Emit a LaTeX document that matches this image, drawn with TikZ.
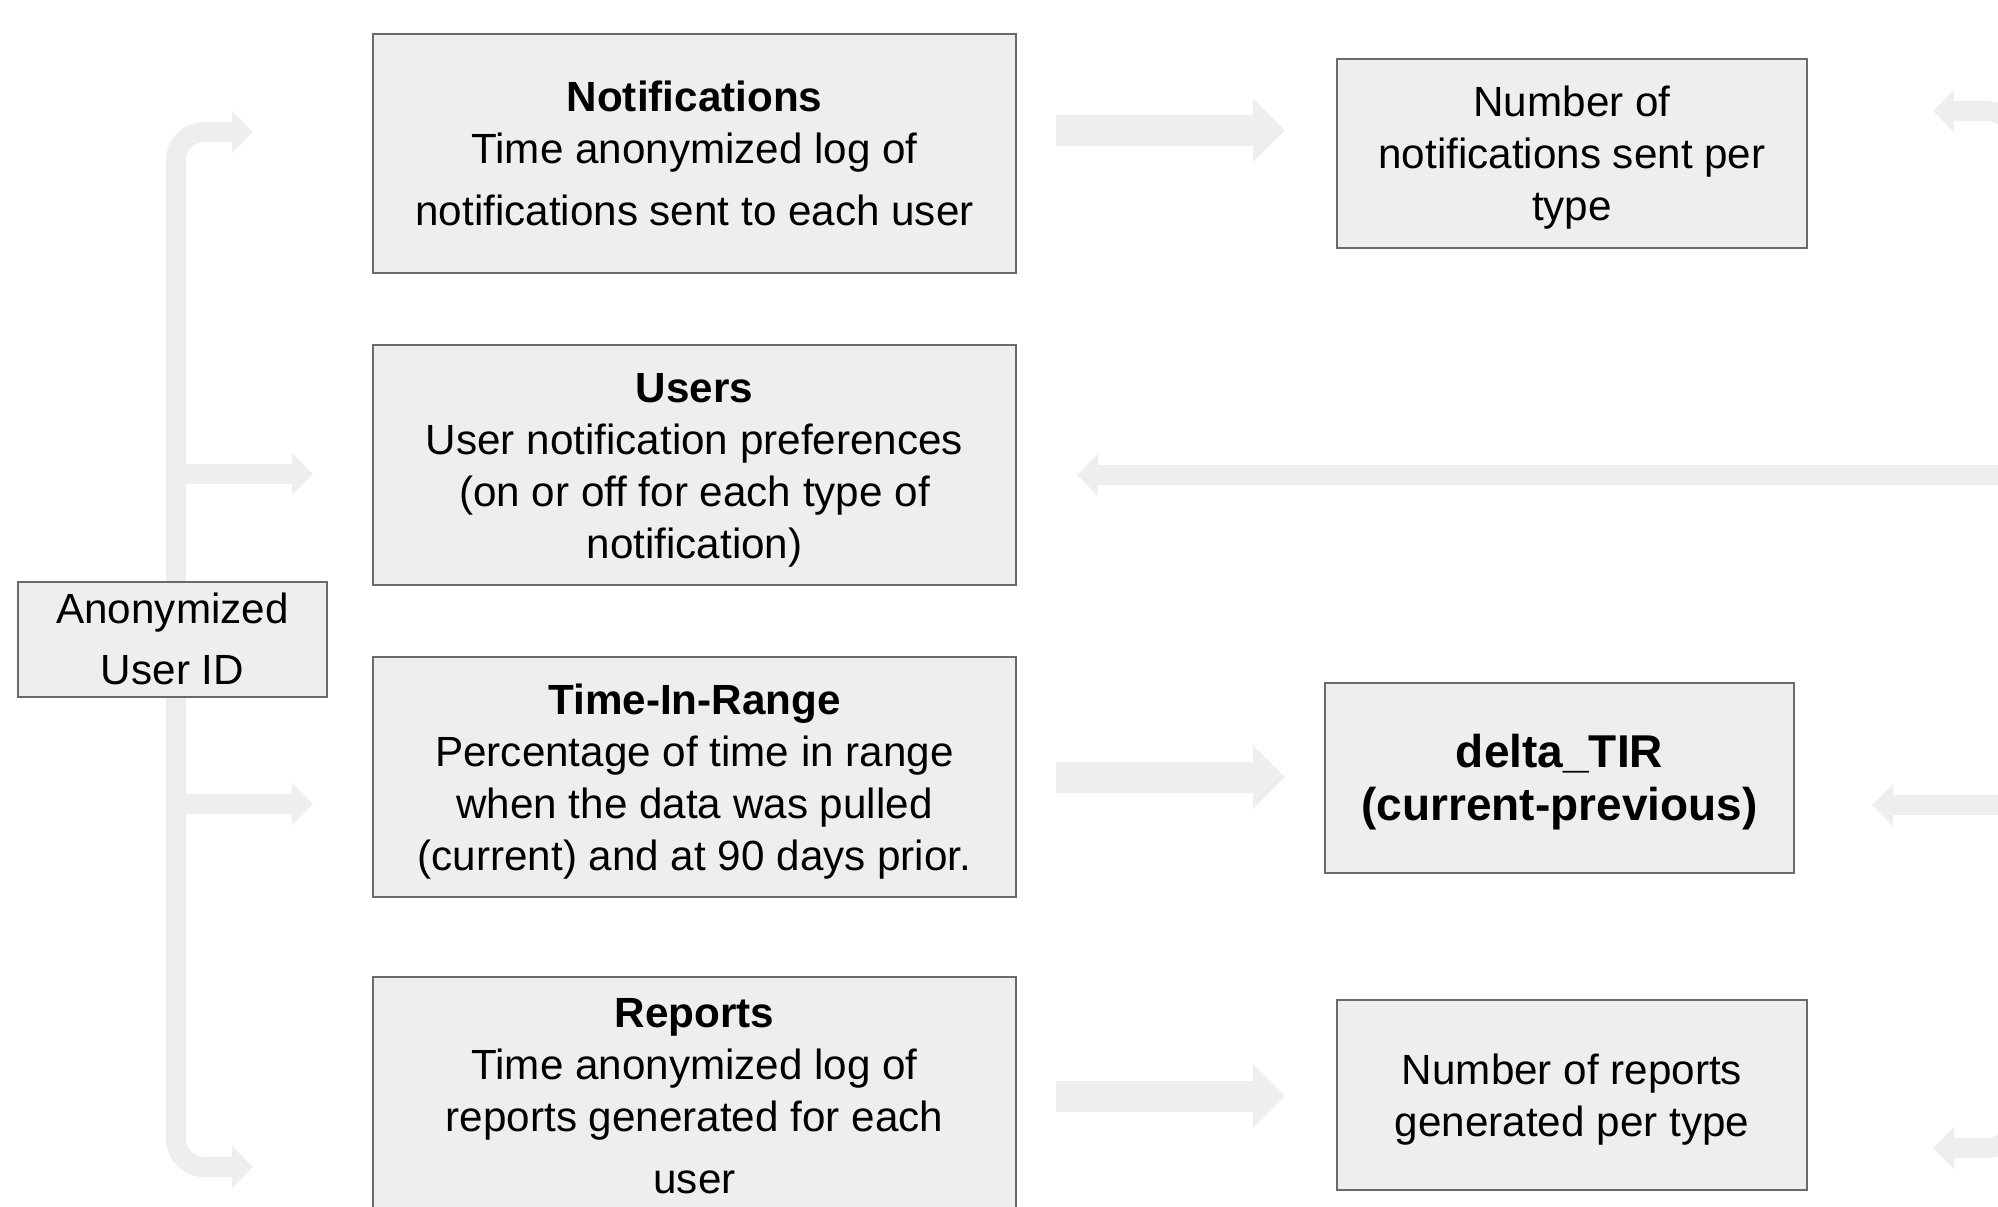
\documentclass[tikz,border=0pt]{standalone}
\usepackage{fontspec}
\setmainfont{Liberation Sans}
\usetikzlibrary{arrows.meta}

\definecolor{boxfill}{HTML}{EEEEEE}
\definecolor{boxline}{HTML}{6A6A6A}
\definecolor{flow}{HTML}{EEEEEE}

\tikzset{
  box/.style={draw=boxline, fill=boxfill, line width=1.2pt, inner sep=0pt},
  boxtext/.style={inner sep=0pt, align=center, text=black,
    font=\fontsize{21.1pt}{26pt}\selectfont},
  bigflow/.style={draw=flow, line width=15.5pt,
    -{Triangle[width=31pt,length=16pt]}},
  thinflow/.style={draw=flow, line width=10pt, rounded corners=14pt},
  thintip/.style={-{Triangle[width=20.5pt,length=10.5pt]}},
  thintips/.style={{Triangle[width=20.5pt,length=10.5pt]}-{Triangle[width=20.5pt,length=10.5pt]}}
}

\begin{document}
\begin{tikzpicture}[x=0.5pt, y=-0.5pt]
\useasboundingbox (0,0) rectangle (1998,1206);
\clip (0,0) rectangle (1998,1206);

% connector end points
\coordinate (lTop) at (253,132);
\coordinate (lTopBend) at (176,132);
\coordinate (lBotBend) at (176,1167);
\coordinate (lBot) at (253,1167);
\coordinate (lUsersFrom) at (176,474);
\coordinate (lUsersTo) at (313,474);
\coordinate (lTirFrom) at (176,804);
\coordinate (lTirTo) at (313,804);

\coordinate (rTop) at (1933,111);
\coordinate (rTopBend) at (2015,111);
\coordinate (rBotBend) at (2015,1148);
\coordinate (rBot) at (1933,1148);
\coordinate (rUsersFrom) at (2015,475);
\coordinate (rUsersTo) at (1077,475);
\coordinate (rDeltaFrom) at (2015,805);
\coordinate (rDeltaTo) at (1872,805);

\coordinate (nFrom) at (1056,130.5);
\coordinate (nTo) at (1285,130.5);
\coordinate (tFrom) at (1056,777);
\coordinate (tTo) at (1285,777);
\coordinate (pFrom) at (1056,1096);
\coordinate (pTo) at (1285,1096);

% left bracket from the user id
\draw[thinflow, thintips] (lTop) -- (lTopBend) -- (lBotBend) -- (lBot);
\draw[thinflow, thintip] (lUsersFrom) -- (lUsersTo);
\draw[thinflow, thintip] (lTirFrom) -- (lTirTo);

% right bracket
\draw[thinflow, thintips] (rTop) -- (rTopBend) -- (rBotBend) -- (rBot);
\draw[thinflow, thintip] (rUsersFrom) -- (rUsersTo);
\draw[thinflow, thintip] (rDeltaFrom) -- (rDeltaTo);

% block arrows between the columns
\draw[bigflow] (nFrom) -- (nTo);
\draw[bigflow] (tFrom) -- (tTo);
\draw[bigflow] (pFrom) -- (pTo);

% data tables
\node[box, minimum width=321.5pt, minimum height=119.5pt] (notif) at (694.5,153.5) {};
\node[boxtext] (notifText) at (notif.center)
  {\textbf{Notifications}\\Time anonymized log of\\[5pt]notifications sent to each user};

\node[box, minimum width=321.5pt, minimum height=120pt] (users) at (694.5,465) {};
\node[boxtext] (usersText) at ([yshift=-2.8pt]users.center)
  {\textbf{Users}\\User notification preferences\\(on or off for each type of\\notification)};

\node[box, minimum width=321.5pt, minimum height=120pt] (tir) at (694.5,777) {};
\node[boxtext] (tirText) at ([yshift=-2.5pt]tir.center)
  {\textbf{Time-In-Range}\\Percentage of time in range\\when the data was pulled\\(current) and at 90 days prior.};

\node[box, minimum width=321.5pt, minimum height=120pt] (reports) at (694.5,1097) {};
\node[boxtext] (reportsText) at ([yshift=0.5pt]reports.center)
  {\textbf{Reports}\\Time anonymized log of\\reports generated for each\\[5pt]user};

% key
\node[box, minimum width=154.5pt, minimum height=57.5pt] (anon) at (172.5,639.5) {};
\node[boxtext] (anonText) at ([yshift=0.4pt]anon.center) {Anonymized\\[4.5pt]User ID};

% derived measures
\node[box, minimum width=235pt, minimum height=94.5pt] (numnotif) at (1572,153.5) {};
\node[boxtext] (numnotifText) at ([yshift=-2pt]numnotif.center)
  {Number of\\notifications sent per\\type};

\node[box, minimum width=234.5pt, minimum height=95pt] (delta) at (1559.5,778) {};
\node[boxtext, font=\fontsize{23pt}{26.5pt}\selectfont\bfseries] (deltaText)
  at ([yshift=-2pt]delta.center) {delta\_TIR\\(current-previous)};

\node[box, minimum width=235pt, minimum height=95pt] (numrep) at (1572,1095) {};
\node[boxtext] (numrepText) at ([yshift=-2.5pt]numrep.center)
  {Number of reports\\generated per type};
\end{tikzpicture}
\end{document}
